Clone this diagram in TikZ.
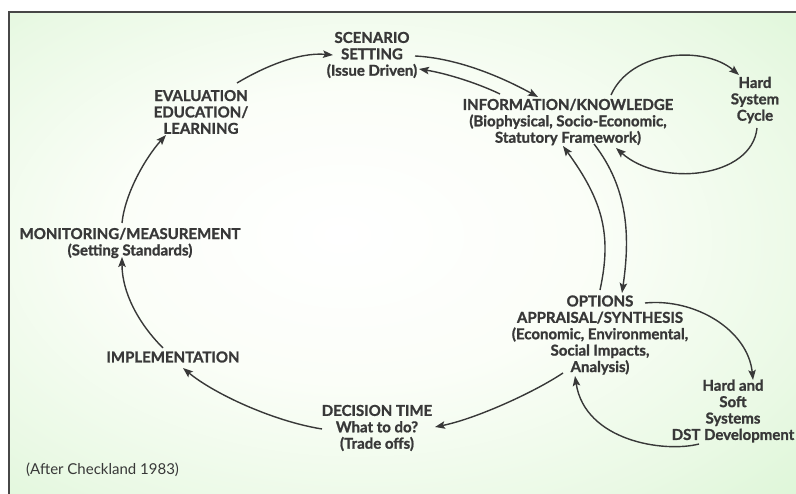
\documentclass[tikz,border=0pt]{standalone}
\usepackage{fontspec}
\setmainfont{Lato}[BoldFeatures={FakeBold=1.2}]
\usetikzlibrary{arrows.meta,calc}
\definecolor{ink}{HTML}{383838}
\definecolor{frame}{HTML}{474747}
\definecolor{bgA}{HTML}{FBFEF8}
\definecolor{bgB}{HTML}{EAF9E5}
\definecolor{bgC}{HTML}{D8F5D2}
\definecolor{bgD}{HTML}{C8F0C1}
\definecolor{bgE}{HTML}{B8EAAF}
\definecolor{bgF}{HTML}{ADE5A3}
\pgfdeclareradialshading{bgsh}{\pgfpoint{-4bp}{2bp}}{color(0bp)=(white); color(15bp)=(bgA); color(30bp)=(bgB); color(42bp)=(bgC); color(52bp)=(bgD); color(65bp)=(bgE); color(80bp)=(bgF)}
\begin{document}
\begin{tikzpicture}[x=1pt,y=-1pt,
  lbl/.style={font=\fontsize{15}{16.4}\selectfont\bfseries, text=ink, align=center, inner sep=0pt},
  note/.style={font=\fontsize{15}{16.4}\selectfont, text=ink, inner sep=0pt},
  conn/.style={draw=ink, line width=1.4pt, -{Stealth[length=10pt,width=7.5pt,inset=2pt]}}]
\useasboundingbox (0,0) rectangle (796,494);
\fill[white] (0,0) rectangle (796,494);
\shade[shading=bgsh] (10,13) rectangle (796,494);
\draw[frame, line width=2.6pt] (9,494) -- (9,12) -- (796,12);

\node[lbl] (scen) at (372,55) {SCENARIO\\SETTING\\(Issue Driven)};
\node[lbl] (info) at (568,122) {INFORMATION/KNOWLEDGE\\(Biophysical, Socio-Economic,\\Statutory Framework)};
\node[lbl] (hsc) at (755,100) {Hard\\System\\Cycle};
\node[lbl] (opt) at (600,335) {OPTIONS\\APPRAISAL/SYNTHESIS\\(Economic, Environmental,\\Social Impacts,\\Analysis)};
\node[lbl] (hss) at (733,411) {Hard and\\Soft\\Systems\\DST Development};
\node[lbl] (dec) at (377,428) {DECISION TIME\\What to do?\\(Trade offs)};
\node[lbl] (impl) at (173,357) {IMPLEMENTATION};
\node[lbl] (mon) at (130,243) {MONITORING/MEASUREMENT\\(Setting Standards)};
\node[lbl] (eval) at (201,112) {EVALUATION\\EDUCATION/\\LEARNING};
\node[note, anchor=west] (after) at (26,470) {(After Checkland 1983)};

\draw[conn] ($(scen.center)+(43,1)$) .. controls +(40,2) and +(-40,-22) .. ($(info.center)+(-30,-25)$);
\draw[conn] ($(info.center)+(-68,-28)$) .. controls +(-25,-12) and +(25,4) .. ($(scen.center)+(47,14)$);
\draw[conn] ($(info.center)+(43,-27)$) .. controls +(20,-45) and +(-35,-30) .. ($(hsc.center)+(-16,-25)$);
\draw[conn] ($(hsc.center)+(2,28)$) .. controls +(-5,50) and +(45,40) .. ($(info.center)+(48,26)$);
\draw[conn] ($(opt.center)+(0,-45)$) .. controls +(12,-55) and +(40,55) .. ($(info.center)+(-5,24)$);
\draw[conn] ($(info.center)+(26,22)$) .. controls +(35,45) and +(8,-55) .. ($(opt.center)+(22,-42)$);
\draw[conn] ($(opt.center)+(45,-32)$) .. controls +(50,-5) and +(-5,-50) .. ($(hss.center)+(20,-31)$);
\draw[conn] ($(hss.center)+(-34,33)$) .. controls +(-35,9) and +(10,65) .. ($(opt.center)+(-25,41)$);
\draw[conn] ($(opt.center)+(-37,38)$) .. controls +(-30,20) and +(40,-8) .. ($(dec.center)+(58,-1)$);
\draw[conn] ($(dec.center)+(-55,1)$) .. controls +(-50,-8) and +(30,25) .. ($(impl.center)+(10,11)$);
\draw[conn] ($(impl.center)+(-10,-9)$) .. controls +(-25,-25) and +(0,35) .. ($(mon.center)+(-8,14)$);
\draw[conn] ($(mon.center)+(-8,-20)$) .. controls +(3,-30) and +(-20,22) .. ($(eval.center)+(-35,23)$);
\draw[conn] ($(eval.center)+(36,-29)$) .. controls +(25,-15) and +(-35,-3) .. ($(scen.center)+(-39,0)$);
\end{tikzpicture}
\end{document}
